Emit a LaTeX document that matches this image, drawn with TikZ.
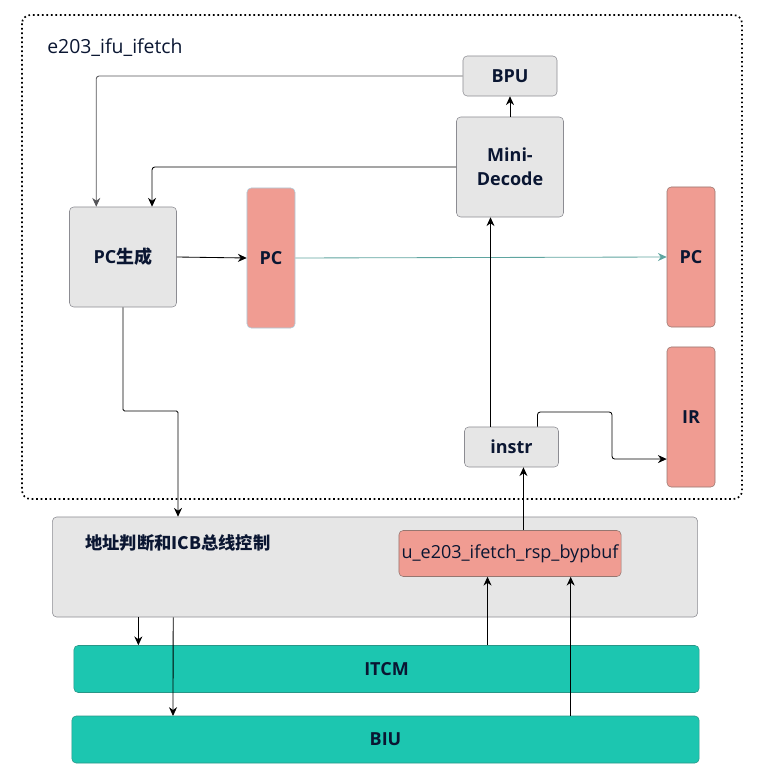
\documentclass[tikz,border=0pt]{standalone}
\usepackage{fontspec}
\setmainfont{Open Sans}
\newfontfamily\cjk{Noto Sans CJK SC}
\usetikzlibrary{arrows.meta}
\definecolor{gfill}{RGB}{230,230,230}
\definecolor{gline}{RGB}{140,140,146}
\definecolor{salmon}{RGB}{240,156,146}
\definecolor{sline}{RGB}{150,118,112}
\definecolor{teal}{RGB}{28,198,176}
\definecolor{tline}{RGB}{40,150,135}
\definecolor{ink}{RGB}{10,22,50}
\definecolor{pcline}{RGB}{95,165,160}
\begin{document}
\begin{tikzpicture}[x=0.025cm, y=-0.025cm, font=\fontsize{12.8}{16}\selectfont, text=ink,
  blk/.style={draw=gline, fill=gfill, rounded corners=3pt, font=\fontsize{12.8}{17}\selectfont\bfseries, align=center},
  reg/.style={draw=sline, fill=salmon, rounded corners=3pt, font=\fontsize{12.8}{16}\selectfont\bfseries, minimum width=1.2cm, minimum height=3.5cm},
  mem/.style={draw=tline, fill=teal, rounded corners=3pt, font=\fontsize{12.8}{16}\selectfont\bfseries, minimum height=1.175cm},
  arr/.style={-{Stealth[length=2.2mm, width=2mm]}, line width=0.6pt, draw=black}]
\useasboundingbox (0,0) rectangle (763,780);
\draw[dotted, line width=1.2pt, rounded corners=6pt] (22,15) rectangle (742,499);
\node[anchor=west, inner sep=0pt, font=\fontsize{13.8}{16}\selectfont] (title) at (47,48) {e203\_ifu\_ifetch};
\node[blk, minimum width=2.35cm, minimum height=1cm] (bpu) at (510,76) {BPU};
\node[blk, minimum width=2.675cm, minimum height=2.5cm] (mdec) at (510,167) {Mini-\\Decode};
\node[blk, minimum width=2.675cm, minimum height=2.5cm] (pcgen) at (123,257) {PC{\cjk\bfseries 生成}};
\node[reg, draw={rgb,255:red,170;green,205;blue,220}] (pcreg) at (271,258) {PC};
\node[reg] (pcout) at (691,257) {PC};
\node[reg] (ir) at (691,417) {IR};
\node[blk, minimum width=2.35cm, minimum height=1cm] (instr) at (511.5,447) {instr};
\node[blk, minimum width=16.125cm, minimum height=2.5cm] (icb) at (375,567) {};
\node[anchor=west, inner sep=0pt, font=\cjk\bfseries\fontsize{12.3}{16}\selectfont] (icblabel) at (85,543) {地址判断和ICB总线控制};
\node[draw=sline, fill=salmon, rounded corners=3pt, inner xsep=1pt, minimum width=5.55cm, minimum height=1.15cm] (byp) at (510,553.5) {u\_e203\_ifetch\_rsp\_bypbuf};
\node[mem, minimum width=15.625cm] (itcm) at (386.5,669) {ITCM};
\node[mem, minimum width=15.675cm] (biu) at (385.5,739.5) {BIU};
\coordinate (pcbend) at (178,411);
\coordinate (biuin) at (173,716);
\draw[arr, draw=gline!60!black, rounded corners=2pt] (bpu.west) -| (pcgen.118);
\draw[arr, rounded corners=2pt] (mdec.west) -| (pcgen.60);
\draw[arr] (mdec.north) -- (bpu.south);
\draw[arr] (pcgen.east) -- (pcreg.west);
\draw[arr, draw=pcline] (pcreg.east) -- (pcout.west);
\draw[arr] (instr.136) -- (instr.136 |- mdec.south);
\draw[arr, rounded corners=2pt] (instr.38) |- (612,412) |- (ir.240);
\draw[arr, rounded corners=1pt] (pcgen.south) |- (pcbend) -- (pcbend |- icb.north);
\draw[arr] (byp.60) -- (byp.60 |- instr.south);
\draw[arr] (icb.192) -- (icb.192 |- itcm.north);
\draw[arr] (icb.194) -- (biuin);
\draw[arr] (byp.226 |- itcm.north) -- (byp.226);
\draw[arr] (byp.339 |- biu.north) -- (byp.339);
\end{tikzpicture}
\end{document}
